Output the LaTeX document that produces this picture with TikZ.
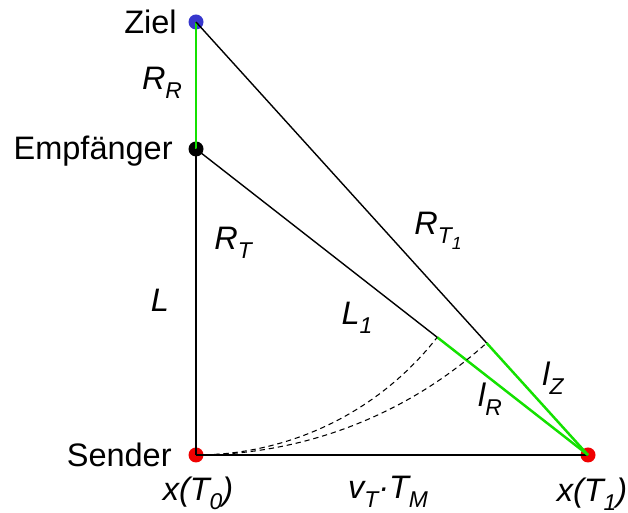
\documentclass[tikz,border=0pt]{standalone}
\usepackage{fontspec}
\setmainfont{Liberation Sans}
\usetikzlibrary{calc}
\definecolor{dotblue}{RGB}{55,55,205}
\definecolor{dotred}{RGB}{240,0,0}
\definecolor{lgreen}{RGB}{20,225,0}
\newcommand\sbs[1]{\raisebox{-0.28em}{\fontsize{13}{13}\selectfont #1}}
\newcommand\ssbs[1]{\raisebox{-0.25em}{\fontsize{10}{10}\selectfont #1}}
\begin{document}
\begin{tikzpicture}[
  dot/.style={circle,inner sep=0pt,minimum size=0.3cm},
  blk/.style={black,line width=0.8pt},
  grn/.style={lgreen,line width=1.4pt},
  arcd/.style={black,line width=0.6pt,dash pattern=on 3pt off 2.2pt},
  lbl/.style={font=\fontsize{18.5}{20}\selectfont,inner sep=0pt},
  ilbl/.style={font=\fontsize{18.5}{20}\selectfont\itshape,inner sep=0pt}
]
\useasboundingbox[fill=white] (0,0) rectangle (12.56,10.26);
% points
\node[dot,fill=dotblue] (Z) at (3.92,9.82) {};
\node[dot,fill=black] (E) at (3.92,7.28) {};
\node[dot,fill=dotred] (S) at (3.92,1.16) {};
\node[dot,fill=dotred] (X) at (11.76,1.16) {};
\coordinate (A) at ($(E)!6.12cm!(X)$);
\coordinate (B) at ($(Z)!8.66cm!(X)$);
% lines
\draw[grn] (Z.center) -- (E.center);
\draw[blk] (E.center) -- (S.center);
\draw[blk] (S.center) -- (X.center);
\draw[blk] (E.center) -- (A);
\draw[blk] (Z.center) -- (B);
\draw[grn] (A) -- (X.center);
\draw[grn] (B) -- (X.center);
\draw[arcd] (S.center) arc[start angle=-90,end angle=-37.98,radius=6.12cm];
\draw[arcd] (S.center) arc[start angle=-90,end angle=-47.84,radius=8.66cm];
% labels
\node[lbl,anchor=east] (tZ) at (3.54,9.82) {Ziel};
\node[lbl,anchor=east] (tE) at (3.46,7.24) {Empfänger};
\node[lbl,anchor=east] (tS) at (3.44,1.16) {Sender};
\node[ilbl] (tRR) at (3.24,8.60) {R\sbs{R}};
\node[ilbl] (tRT) at (4.66,5.40) {R\sbs{T}};
\node[ilbl] (tL) at (3.20,4.26) {L};
\node[ilbl] (tL1) at (7.14,3.90) {L\sbs{1}};
\node[ilbl] (tRT1) at (8.76,5.64) {R\sbs{T\ssbs{1}}};
\node[ilbl] (tlZ) at (11.06,2.70) {l\sbs{Z}};
\node[ilbl] (tlR) at (9.80,2.28) {l\sbs{R}};
\node[ilbl] (tx0) at (3.96,0.40) {x(T\sbs{0})};
\node[ilbl] (tv) at (7.76,0.42) {v\sbs{T}·T\sbs{M}};
\node[ilbl] (tx1) at (11.84,0.38) {x(T\sbs{1})};
\end{tikzpicture}
\end{document}
